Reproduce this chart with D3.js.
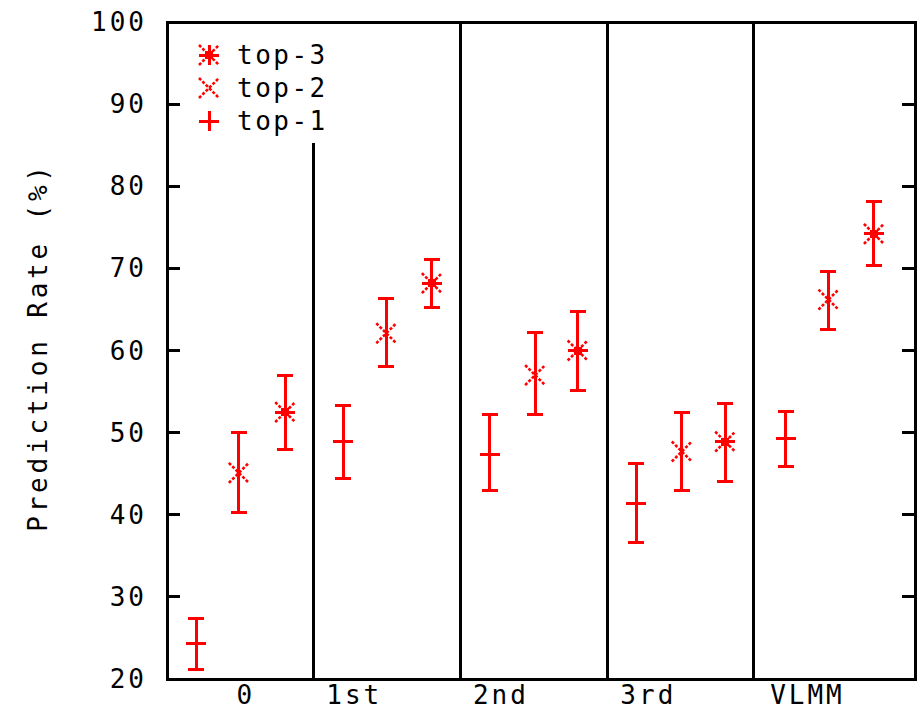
<!DOCTYPE html>
<html>
<head>
<meta charset="utf-8">
<script src="https://cdn.jsdelivr.net/npm/d3@7"></script>
<style>
  body { margin: 0; background: #fff; }
  text { font-family: "DejaVu Sans Mono", monospace; font-size: 26px; fill: #000; }
  line, rect { shape-rendering: crispEdges; }
  line.diag { shape-rendering: auto; }
</style>
</head>
<body>
<svg id="chart" width="917" height="711"></svg>
<script>
// DATA
const groupLabels = ['0', '1st', '2nd', '3rd', 'VLMM']
const groupLabelPos = [0.53, 1.27, 2.27, 3.275, 4.36]
const separators = [1, 2, 3, 4]
const firstSeparatorTop = 85.3
const yTicks = [20, 30, 40, 50, 60, 70, 80, 90, 100]

const top1X = [0.2, 1.2, 2.2, 3.2, 4.22]
const top1 = [24.3, 48.9, 47.3, 41.4, 49.3]
const top1Low = [21.1, 44.4, 42.9, 36.6, 45.9]
const top1High = [27.4, 53.3, 52.2, 46.2, 52.6]

const top2X = [0.49, 1.495, 2.51, 3.51, 4.51]
const top2 = [45.1, 62.1, 57.0, 47.7, 66.2]
const top2Low = [40.3, 58.1, 52.2, 42.9, 62.6]
const top2High = [50.0, 66.3, 62.2, 52.5, 69.6]

const top3X = [0.806, 1.806, 2.8, 3.806, 4.82]
const top3 = [52.5, 68.2, 60.0, 48.9, 74.2]
const top3Low = [48.0, 65.2, 55.1, 44.0, 70.3]
const top3High = [57.0, 71.1, 64.8, 53.6, 78.2]

const seriesNames = ['top-3', 'top-2', 'top-1']

const red = '#ff0000'
const margin = {left: 167, right: 915, top: 22, bottom: 679}

const svg = d3.select('#chart')

// SCALES
const x = d3.scaleLinear().domain([0, 5.1]).range([margin.left, margin.right])
const y = d3.scaleLinear().domain([20, 100]).range([margin.bottom, margin.top])

// point shapes, gnuplot style
const plus = (g, cx, cy, r) => {
    g.append('line').attr('x1', cx - r).attr('x2', cx + r).attr('y1', cy).attr('y2', cy)
        .attr('stroke', red).attr('stroke-width', 3)
    g.append('line').attr('x1', cx).attr('x2', cx).attr('y1', cy - r).attr('y2', cy + r)
        .attr('stroke', red).attr('stroke-width', 3)
}
const cross = (g, cx, cy, r) => {
    [[-1, -1, 1, 1], [-1, 1, 1, -1]].forEach(d => {
        g.append('line').attr('class', 'diag')
            .attr('x1', cx + d[0] * r).attr('y1', cy + d[1] * r)
            .attr('x2', cx + d[2] * r).attr('y2', cy + d[3] * r)
            .attr('stroke', red).attr('stroke-width', 2.6).attr('stroke-dasharray', '3,1.8')
    })
}
const star = (g, cx, cy, r) => {
    cross(g, cx, cy, r)
    plus(g, cx, cy, r)
    g.append('rect').attr('x', cx - 4).attr('y', cy - 4).attr('width', 8).attr('height', 8).attr('fill', red)
}

// SEPARATORS
svg.append('g').selectAll('line')
    .data(separators)
    .join('line')
    .attr('x1', d => x(d)).attr('x2', d => x(d))
    .attr('y1', (d, i) => i === 0 ? y(firstSeparatorTop) : y(100))
    .attr('y2', y(20))
    .attr('stroke', '#000').attr('stroke-width', 3)

// TICKS (inward, both sides)
const tickLen = 13
svg.append('g').selectAll('line')
    .data(yTicks.slice(1, -1))
    .join('line')
    .attr('x1', margin.left).attr('x2', margin.left + tickLen)
    .attr('y1', d => y(d)).attr('y2', d => y(d))
    .attr('stroke', '#000').attr('stroke-width', 3)
svg.append('g').selectAll('line')
    .data(yTicks.slice(1, -1))
    .join('line')
    .attr('x1', margin.right - tickLen).attr('x2', margin.right)
    .attr('y1', d => y(d)).attr('y2', d => y(d))
    .attr('stroke', '#000').attr('stroke-width', 3)

// TICK LABELS
svg.append('g').selectAll('text')
    .data(yTicks)
    .join('text')
    .attr('x', 147)
    .attr('y', d => y(d) + 9)
    .attr('text-anchor', 'end')
    .style('letter-spacing', '3px')
    .text(d => d)

svg.append('g').selectAll('text')
    .data(groupLabels)
    .join('text')
    .attr('x', (d, i) => x(groupLabelPos[i]) + 1)
    .attr('y', 704)
    .attr('text-anchor', 'middle')
    .style('letter-spacing', '3px')
    .text(d => d)

// Y LABEL
svg.append('text')
    .attr('transform', 'translate(47,347) rotate(-90)')
    .attr('text-anchor', 'middle')
    .style('letter-spacing', '3.8px')
    .text('Prediction Rate (%)')

// ERROR BARS + POINTS
const series = [
    {xs: top1X, v: top1, lo: top1Low, hi: top1High, shape: plus},
    {xs: top2X, v: top2, lo: top2Low, hi: top2High, shape: cross},
    {xs: top3X, v: top3, lo: top3Low, hi: top3High, shape: star}
]
const cap = 8, r = 10
const pts = svg.append('g')
series.forEach(s => {
    s.v.forEach((v, i) => {
        const cx = x(s.xs[i])
        pts.append('line').attr('x1', cx).attr('x2', cx)
            .attr('y1', y(s.lo[i])).attr('y2', y(s.hi[i]))
            .attr('stroke', red).attr('stroke-width', 3)
        pts.append('line').attr('x1', cx - cap).attr('x2', cx + cap)
            .attr('y1', y(s.lo[i])).attr('y2', y(s.lo[i]))
            .attr('stroke', red).attr('stroke-width', 3)
        pts.append('line').attr('x1', cx - cap).attr('x2', cx + cap)
            .attr('y1', y(s.hi[i])).attr('y2', y(s.hi[i]))
            .attr('stroke', red).attr('stroke-width', 3)
        s.shape(pts, cx, y(v), r)
    })
})

// LEGEND
const legend = svg.append('g')
const legendShapes = [star, cross, plus]
seriesNames.forEach((name, i) => {
    const ly = 55 + i * 33
    legendShapes[i](legend, 209, ly, r)
    legend.append('text')
        .attr('x', 237).attr('y', ly + 9)
        .style('letter-spacing', '2.5px')
        .text(name)
})

// FRAME
svg.append('rect')
    .attr('x', margin.left).attr('y', margin.top)
    .attr('width', margin.right - margin.left).attr('height', margin.bottom - margin.top)
    .attr('fill', 'none').attr('stroke', '#000').attr('stroke-width', 3)
</script>
</body>
</html>
